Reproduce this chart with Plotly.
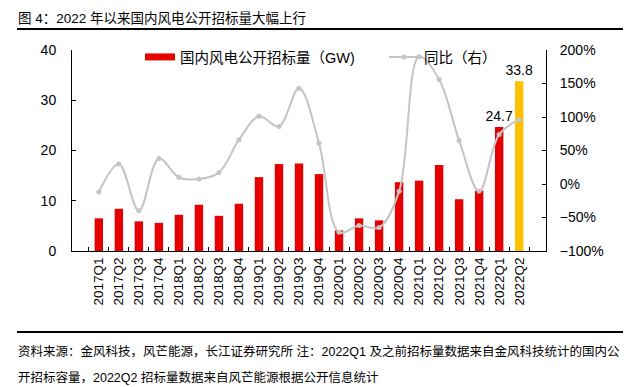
import plotly.graph_objects as go

categories = ["2017Q1", "2017Q2", "2017Q3", "2017Q4", "2018Q1", "2018Q2", "2018Q3", "2018Q4",
              "2019Q1", "2019Q2", "2019Q3", "2019Q4", "2020Q1", "2020Q2", "2020Q3", "2020Q4",
              "2021Q1", "2021Q2", "2021Q3", "2021Q4", "2022Q1", "2022Q2"]
tender_gw = [6.5, 8.4, 5.9, 5.6, 7.2, 9.2, 7.0, 9.4, 14.7, 17.3, 17.4, 15.3,
             4.1, 6.5, 6.1, 13.7, 14.0, 17.1, 10.3, 12.0, 24.7, 33.8]
yoy_pct = [-12, 30, -40, 38, 10, 7.5, 17, 66, 101, 86, 143, 61,
           -72, -62, -65, -11, 190, 156, 65, -11, 74, 96]
bar_labels = [""] * 20 + ["24.7", "33.8"]

title_text = "图 4：2022 年以来国内风电公开招标量大幅上行"
source_line1 = "资料来源：金风科技，风芒能源，长江证券研究所 注：2022Q1 及之前招标量数据来自金风科技统计的国内公"
source_line2 = "开招标容量，2022Q2 招标量数据来自风芒能源根据公开信息统计"
bar_name = "国内风电公开招标量（GW)"
line_name = "同比（右）"

RED = "#E60000"
GOLD = "#FFC000"
GRAY = "#C4C4C4"
FONT = "Liberation Sans, Arial, Noto Sans CJK SC, sans-serif"

bar_colors = [RED] * (len(categories) - 1) + [GOLD]

fig = go.Figure()
fig.add_trace(go.Bar(
    x=categories, y=tender_gw, marker=dict(color=bar_colors, line=dict(width=0)),
    text=bar_labels, textposition="outside", textfont=dict(size=14, color="#000000"),
    constraintext="none", cliponaxis=False, showlegend=False, name=bar_name,
))
fig.add_trace(go.Scatter(
    x=[None], y=[None], mode="lines", name=bar_name, legend="legend",
    line=dict(color=RED, width=7),
))
fig.add_trace(go.Scatter(
    x=categories, y=yoy_pct, yaxis="y2", mode="lines+markers", name=line_name,
    legend="legend2",
    line=dict(color=GRAY, width=2, shape="spline", smoothing=1.0),
    marker=dict(color=GRAY, size=5),
))

L, R, T, B = 72, 94, 50, 136
W, H = 640, 387
pw, ph = W - L - R, H - T - B

def px_x(x):
    return (x - L) / pw

def px_y(y):
    return (H - B - y) / ph

fig.update_layout(
    width=W, height=H, margin=dict(l=L, r=R, t=T, b=B, pad=0),
    paper_bgcolor="white", plot_bgcolor="white",
    font=dict(family=FONT, size=14, color="#000000"),
    bargap=0.58,
    xaxis=dict(
        type="category", showline=True, linecolor="#000000", linewidth=1,
        ticks="inside", tickson="boundaries", ticklen=4, tickcolor="#000000",
        tickangle=-90, tickfont=dict(size=13.5), showgrid=False, zeroline=False,
    ),
    yaxis=dict(
        range=[0, 40], dtick=10, showline=True, linecolor="#000000", linewidth=1,
        ticks="inside", ticklen=4, tickcolor="#000000", tickfont=dict(size=14),
        showgrid=False, zeroline=False, ticklabelstandoff=12,
    ),
    yaxis2=dict(
        range=[-100, 200], dtick=50, ticksuffix="%", overlaying="y", side="right",
        showline=True, linecolor="#000000", linewidth=1,
        ticks="inside", ticklen=4, tickcolor="#000000", tickfont=dict(size=14),
        showgrid=False, zeroline=False, ticklabelstandoff=10,
    ),
    legend=dict(
        orientation="h", x=px_x(140), y=px_y(57), xanchor="left", yanchor="middle",
        font=dict(size=14.5), bgcolor="rgba(0,0,0,0)",
    ),
    legend2=dict(
        orientation="h", x=px_x(384), y=px_y(57), xanchor="left", yanchor="middle",
        font=dict(size=14.5), bgcolor="rgba(0,0,0,0)",
    ),
    shapes=[
        dict(type="line", xref="paper", yref="paper", x0=px_x(17), x1=px_x(623),
             y0=px_y(29), y1=px_y(29), line=dict(color="#000000", width=2)),
        dict(type="line", xref="paper", yref="paper", x0=px_x(17), x1=px_x(623),
             y0=px_y(332), y1=px_y(332), line=dict(color="#000000", width=2)),
    ],
    annotations=[
        dict(text=title_text, xref="paper", yref="paper", x=px_x(16), y=px_y(19),
             xanchor="left", yanchor="middle", showarrow=False,
             font=dict(size=13.5, color="#000000")),
        dict(text=source_line1, xref="paper", yref="paper", x=px_x(16), y=px_y(351),
             xanchor="left", yanchor="middle", showarrow=False,
             font=dict(size=12.5, color="#000000")),
        dict(text=source_line2, xref="paper", yref="paper", x=px_x(16), y=px_y(377),
             xanchor="left", yanchor="middle", showarrow=False,
             font=dict(size=12.5, color="#000000")),
    ],
)

fig.write_html("out.html", config={"displayModeBar": False},
               post_script="document.body.style.margin='0';")
